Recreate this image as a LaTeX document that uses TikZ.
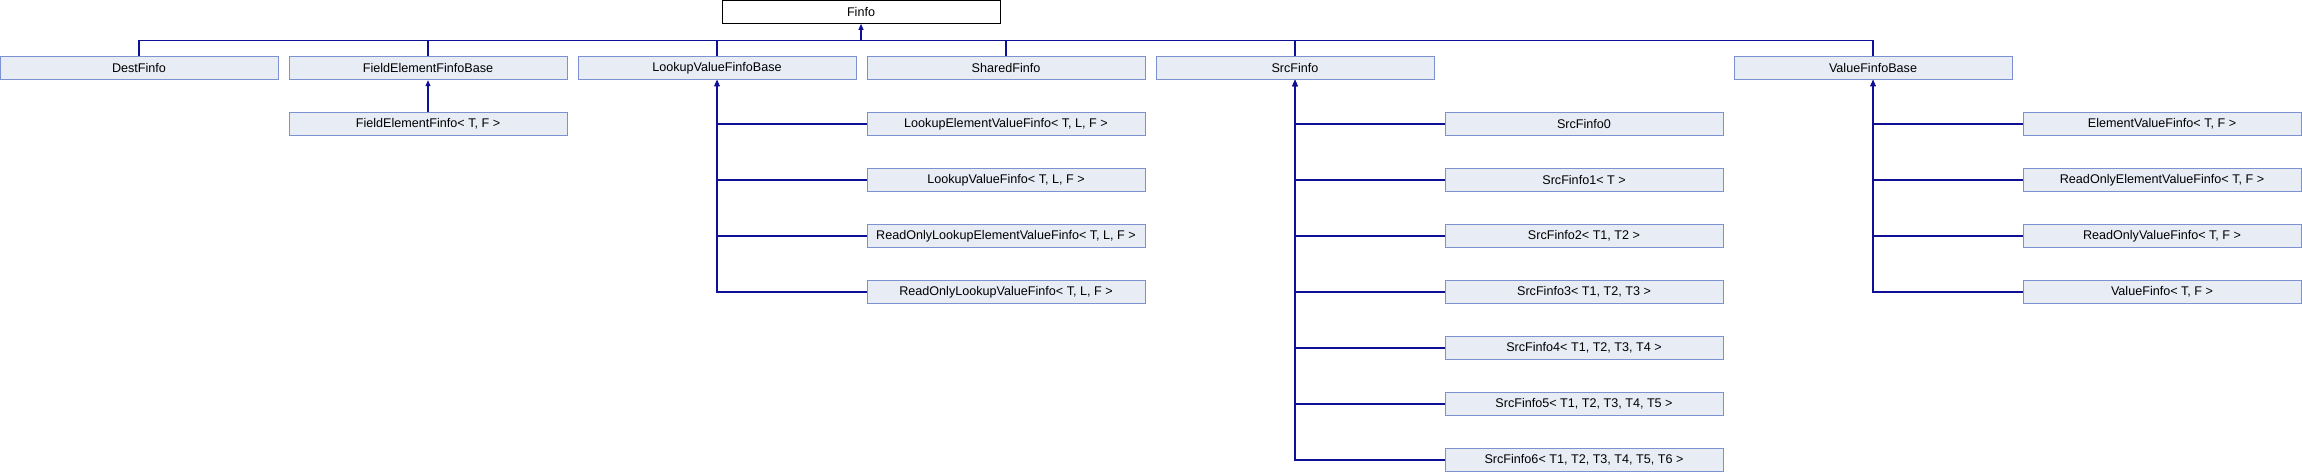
\documentclass[tikz,border=0pt]{standalone}
\usepackage{fontspec}
\setmainfont{Liberation Sans}
\usepackage{xcolor}
\usepackage{tikz}
\usetikzlibrary{shapes,arrows.meta}
\definecolor{boxfill}{RGB}{232,236,245}
\definecolor{boxline}{RGB}{124,145,207}
\definecolor{edgeblue}{RGB}{16,16,150}
\tikzset{cls/.style={rectangle,draw=boxline,fill=boxfill,line width=1pt,minimum width=278pt,minimum height=23.3pt,inner sep=0pt,font=\fontsize{12.6}{14}\selectfont}}
\tikzset{rootcls/.style={cls,draw=black,fill=white}}
\tikzset{edge/.style={draw=edgeblue,line width=1.1pt}}

\begin{document}
\begin{tikzpicture}[x=1pt,y=1pt,>={Triangle[length=6pt,width=5pt]}]
    \useasboundingbox (0,0) rectangle (2302,-472);

    \node[rootcls] (fin)at (861,-11.7) {Finfo};
    \coordinate (bus)at (861,-40.5);

    \node[cls] (dest)at (139,-68) {DestFinfo};
    \node[cls] (feb)at (428,-68) {FieldElementFinfoBase};
    \node[cls] (lvb)at (717,-68) {LookupValueFinfoBase};
    \node[cls] (shared)at (1006,-68) {SharedFinfo};
    \node[cls] (src)at (1295,-68) {SrcFinfo};
    \node[cls] (vb)at (1873,-68) {ValueFinfoBase};

    \node[cls] (fe)at (428,-124) {FieldElementFinfo\textless{} T, F \textgreater};

    \node[cls] (lev)at (1006,-124) {LookupElementValueFinfo\textless{} T, L, F \textgreater};
    \node[cls] (lv)at (1006,-180) {LookupValueFinfo\textless{} T, L, F \textgreater};
    \node[cls] (rolev)at (1006,-236) {ReadOnlyLookupElementValueFinfo\textless{} T, L, F \textgreater};
    \node[cls] (rolv)at (1006,-292) {ReadOnlyLookupValueFinfo\textless{} T, L, F \textgreater};

    \node[cls] (src0)at (1584,-124) {SrcFinfo0};
    \node[cls] (src1)at (1584,-180) {SrcFinfo1\textless{} T \textgreater};
    \node[cls] (src2)at (1584,-236) {SrcFinfo2\textless{} T1, T2 \textgreater};
    \node[cls] (src3)at (1584,-292) {SrcFinfo3\textless{} T1, T2, T3 \textgreater};
    \node[cls] (src4)at (1584,-348) {SrcFinfo4\textless{} T1, T2, T3, T4 \textgreater};
    \node[cls] (src5)at (1584,-404) {SrcFinfo5\textless{} T1, T2, T3, T4, T5 \textgreater};
    \node[cls] (src6)at (1584,-460) {SrcFinfo6\textless{} T1, T2, T3, T4, T5, T6 \textgreater};

    \node[cls] (ev)at (2162,-124) {ElementValueFinfo\textless{} T, F \textgreater};
    \node[cls] (roev)at (2162,-180) {ReadOnlyElementValueFinfo\textless{} T, F \textgreater};
    \node[cls] (rov)at (2162,-236) {ReadOnlyValueFinfo\textless{} T, F \textgreater};
    \node[cls] (val)at (2162,-292) {ValueFinfo\textless{} T, F \textgreater};

    % first level
    \draw [edge,->] (bus) to (fin.south);
    \draw [edge] (dest.north) |- (bus);
    \draw [edge] (feb.north) |- (bus);
    \draw [edge] (lvb.north) |- (bus);
    \draw [edge] (shared.north) |- (bus);
    \draw [edge] (src.north) |- (bus);
    \draw [edge] (vb.north) |- (bus);

    % second level
    \draw [edge,->] (fe.north) to (feb.south);

    \draw [edge,->] (lev.west) -| (lvb.south);
    \draw [edge,->] (lv.west) -| (lvb.south);
    \draw [edge,->] (rolev.west) -| (lvb.south);
    \draw [edge,->] (rolv.west) -| (lvb.south);

    \draw [edge,->] (src0.west) -| (src.south);
    \draw [edge,->] (src1.west) -| (src.south);
    \draw [edge,->] (src2.west) -| (src.south);
    \draw [edge,->] (src3.west) -| (src.south);
    \draw [edge,->] (src4.west) -| (src.south);
    \draw [edge,->] (src5.west) -| (src.south);
    \draw [edge,->] (src6.west) -| (src.south);

    \draw [edge,->] (ev.west) -| (vb.south);
    \draw [edge,->] (roev.west) -| (vb.south);
    \draw [edge,->] (rov.west) -| (vb.south);
    \draw [edge,->] (val.west) -| (vb.south);
\end{tikzpicture}
\end{document}
